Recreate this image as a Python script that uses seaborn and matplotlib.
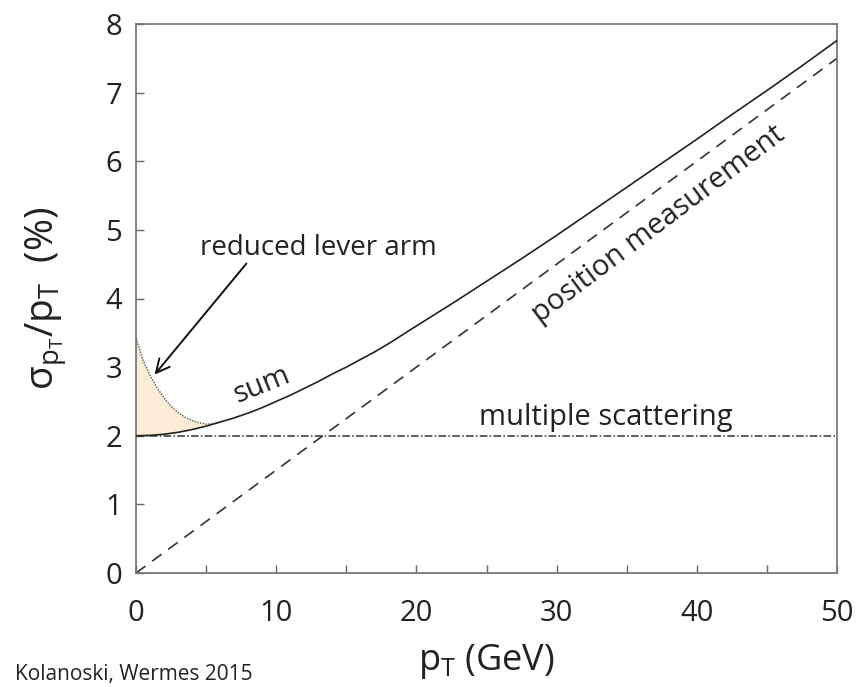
import numpy as np
import pandas as pd
import matplotlib
matplotlib.use("Agg")
import matplotlib.pyplot as plt
import seaborn as sns

# ---- data ----
pt_sum = [0, 1, 2, 3, 4, 5, 6, 7, 8, 9, 10, 11, 12, 13, 14, 15, 16, 17, 18,
          19, 20, 22.5, 25, 27.5, 30, 32.5, 35, 37.5, 40, 42.5, 45, 47.5, 50]
res_sum = [2.00, 2.006, 2.022, 2.05, 2.09, 2.14, 2.20, 2.26, 2.33, 2.41,
           2.50, 2.59, 2.69, 2.79, 2.90, 3.00, 3.11, 3.22, 3.34, 3.47, 3.60,
           3.92, 4.25, 4.58, 4.92, 5.27, 5.62, 5.97, 6.32, 6.68, 7.03, 7.39,
           7.76]

pt_lever = [0, 0.5, 1, 1.5, 2, 2.5, 3, 3.5, 4, 4.5, 5, 5.5, 6]
res_lever = [3.42, 3.10, 2.88, 2.70, 2.55, 2.43, 2.34, 2.27, 2.22, 2.19,
             2.17, 2.17, 2.20]

pt_pos = [0, 50]
res_pos = [0.0, 7.5]

pt_ms = [0, 50]
res_ms = [2.0, 2.0]

x_ticks = [0, 10, 20, 30, 40, 50]
x_minor = [5, 15, 25, 35, 45]
y_ticks = [0, 1, 2, 3, 4, 5, 6, 7, 8]

sns.set_theme(style="ticks")
plt.rcParams["font.family"] = ["Open Sans", "DejaVu Sans"]
plt.rcParams["mathtext.default"] = "regular"

fig = plt.figure(figsize=(8.6, 6.87), dpi=100)
ax = fig.add_axes([136 / 860, 1 - 573 / 687, (837 - 136) / 860, (573 - 24) / 687])

df_sum = pd.DataFrame({"pt": pt_sum, "res": res_sum})
df_lever = pd.DataFrame({"pt": pt_lever, "res": res_lever})
df_pos = pd.DataFrame({"pt": pt_pos, "res": res_pos})
df_ms = pd.DataFrame({"pt": pt_ms, "res": res_ms})

sum_at_lever = np.interp(pt_lever, pt_sum, res_sum)
ax.fill_between(pt_lever, sum_at_lever, res_lever, color="#fcecd6", lw=0, zorder=1)

sns.lineplot(data=df_ms, x="pt", y="res", ax=ax, color="#333333", lw=1.1, zorder=2)
ax.lines[-1].set_dashes([5, 1.5, 1, 1.5])
sns.lineplot(data=df_pos, x="pt", y="res", ax=ax, color="#333333", lw=1.2, zorder=2)
ax.lines[-1].set_dashes([7, 5])
sns.lineplot(data=df_lever, x="pt", y="res", ax=ax, color="#555555", lw=1.0, zorder=3)
ax.lines[-1].set_dashes([1, 1])
sns.lineplot(data=df_sum, x="pt", y="res", ax=ax, color="#222222", lw=1.2, zorder=4)

ax.set_xlim(0, 50)
ax.set_ylim(0, 8)
ax.set_xticks(x_ticks)
ax.set_xticks(x_minor, minor=True)
ax.set_yticks(y_ticks)
ax.tick_params(axis="both", which="both", direction="in", color="#666666",
               labelsize=21, labelcolor="#222222")
ax.tick_params(axis="x", which="both", pad=19)
ax.tick_params(axis="y", which="both", pad=10)
ax.tick_params(which="major", length=6, width=1)
ax.tick_params(which="minor", length=6, width=1)
for s in ax.spines.values():
    s.set_color("#777777")
    s.set_linewidth(1.3)

ax.set_xlabel(r"p$_T$ (GeV)", fontsize=26, color="#222222", labelpad=10)
ax.set_ylabel(r"$\sigma_{p_T}$/p$_T$  (%)", fontsize=28, color="#222222", labelpad=26)

ax.text(4.6, 4.63, "reduced lever arm", fontsize=20, color="#222222",
        ha="left", va="baseline")
ax.annotate("", xy=(1.2, 2.86), xytext=(8.0, 4.54),
            arrowprops=dict(arrowstyle="->", color="#111111", lw=1.4,
                            mutation_scale=24))
ax.text(9.0, 2.74, "sum", fontsize=21, color="#222222", rotation=22,
        ha="center", va="center")
ax.text(33.5, 2.16, "multiple scattering", fontsize=21, color="#222222",
        ha="center", va="baseline")
ax.text(37.3, 5.08, "position measurement", fontsize=21, color="#222222",
        rotation=37, ha="center", va="center", rotation_mode="anchor")

fig.text(15 / 860, 2 / 687, "Kolanoski, Wermes 2015", fontsize=15,
         color="#222222", ha="left", va="bottom")

fig.savefig("out.png", dpi=100)
